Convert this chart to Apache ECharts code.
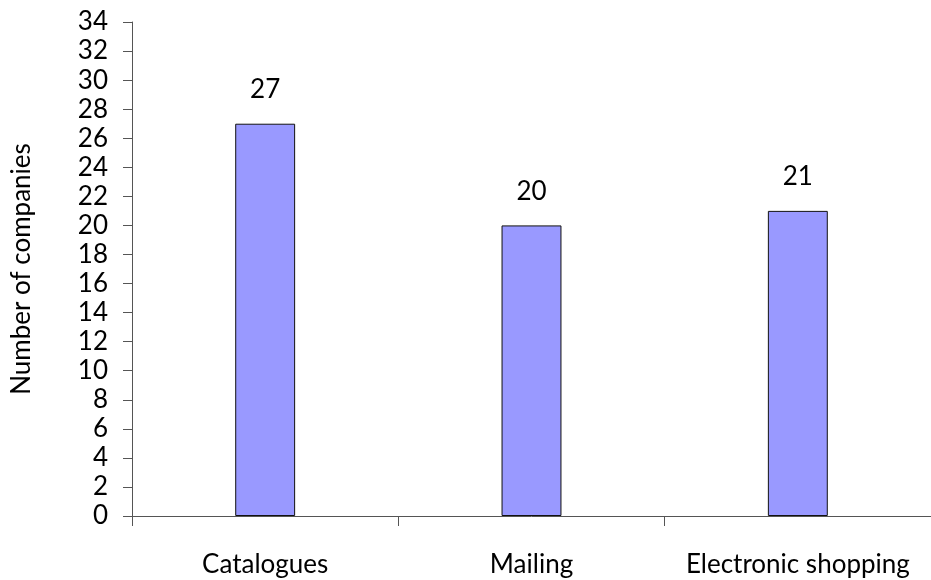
<!DOCTYPE html>
<html>
<head>
<meta charset="utf-8">
<script src="https://cdn.jsdelivr.net/npm/echarts@6/dist/echarts.min.js"></script>
<style>
  html, body { margin: 0; padding: 0; background: #fff; }
  #chart { width: 931px; height: 580px; }
</style>
</head>
<body>
<div id="chart"></div>
<script>
// chart data
const categories = ['Catalogues', 'Mailing', 'Electronic shopping'];
const companies = [27, 20, 21];
const yMin = 0, yMax = 34, yStep = 2;

const chart = echarts.init(document.getElementById('chart'));
const font = 'Lato, "Open Sans", sans-serif';

const option = {
  animation: false,
  grid: {
    left: 132,
    top: 22,
    width: 805,
    height: 494,
    containLabel: false
  },
  xAxis: {
    type: 'category',
    data: categories,
    axisLine: { lineStyle: { color: '#555', width: 1 } },
    axisTick: { show: true, interval: 0, length: 10, lineStyle: { color: '#555' } },
    axisLabel: {
      interval: 0,
      hideOverlap: false,
      margin: 36,
      color: '#000',
      fontSize: 26,
      fontFamily: font
    }
  },
  yAxis: {
    type: 'value',
    min: yMin,
    max: yMax,
    interval: yStep,
    name: 'Number of companies',
    nameLocation: 'middle',
    nameGap: 97,
    nameRotate: 90,
    nameTextStyle: { color: '#000', fontSize: 26, fontFamily: font },
    axisLine: { show: true, lineStyle: { color: '#555', width: 1 } },
    axisTick: { show: true, length: 9, lineStyle: { color: '#555' } },
    splitLine: { show: false },
    axisLabel: {
      margin: 24,
      color: '#000',
      fontSize: 26,
      fontFamily: font
    }
  },
  series: [{
    type: 'bar',
    data: companies,
    barWidth: '22.5%',
    itemStyle: {
      color: '#9999FF',
      borderColor: '#111',
      borderWidth: 1
    },
    label: {
      show: true,
      position: 'top',
      distance: 21,
      color: '#000',
      fontSize: 26,
      fontFamily: font
    }
  }]
};

chart.setOption(option);
</script>
</body>
</html>
